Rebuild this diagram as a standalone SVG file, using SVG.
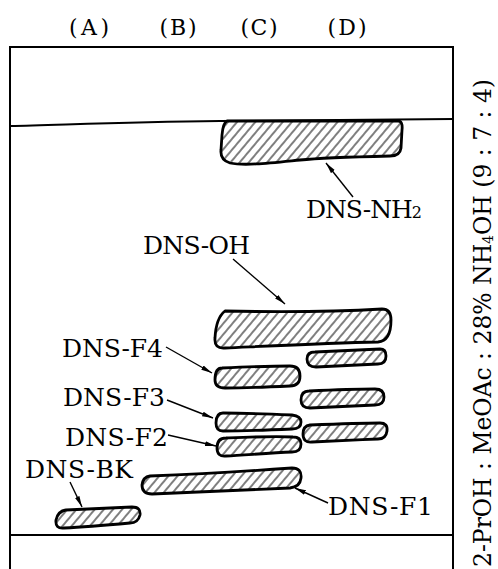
<svg xmlns="http://www.w3.org/2000/svg" width="498" height="569" viewBox="0 0 498 569">
<defs>
<pattern id="hatch" patternUnits="userSpaceOnUse" width="7" height="10" patternTransform="rotate(40)">
<line x1="1" y1="0" x2="1" y2="10" stroke="#000" stroke-width="1"/>
</pattern>
<marker id="ah" markerWidth="12" markerHeight="6" refX="11" refY="3" orient="auto" markerUnits="userSpaceOnUse">
<path d="M0,0.6 L11,3 L0,5.4 Z" fill="#000"/>
</marker>
<style>
.spot{fill:url(#hatch);stroke:#000;stroke-width:2.8;stroke-linejoin:round}
.lbl{font-family:"DejaVu Serif","Liberation Serif",serif;font-size:25px;fill:#000}
.col{font-family:"DejaVu Serif","Liberation Serif",serif;font-size:22px;fill:#000}
.frame{fill:none;stroke:#000;stroke-width:2}
.arr{fill:none;stroke:#000;stroke-width:1.4;marker-end:url(#ah)}
</style>
</defs>
<rect width="498" height="569" fill="#fff"/>
<g id="frame">
<path class="frame" d="M10,569 L10,47 L453,47 L453,569"/>
<path class="frame" d="M10,126 C60,125 120,122 220,121 L453,119"/>
<path class="frame" d="M10,535 L453,535"/>
</g>
<g id="columns">
<text class="col" x="89" y="35" text-anchor="middle" textLength="40">(A)</text>
<text class="col" x="178" y="35" text-anchor="middle" textLength="37">(B)</text>
<text class="col" x="259" y="35" text-anchor="middle" textLength="37">(C)</text>
<text class="col" x="347" y="35" text-anchor="middle" textLength="39">(D)</text>
</g>
<g id="solvent">
<text class="lbl" font-size="23" transform="translate(491,567) rotate(-90)" x="0" y="0" textLength="488" lengthAdjust="spacingAndGlyphs">2-PrOH : MeOAc : 28% NH<tspan font-size="15" dy="2">4</tspan><tspan dy="-2">OH (9 : 7 : 4)</tspan></text>
</g>
<g id="connectors">
<line class="arr" x1="353" y1="197" x2="326" y2="163"/>
<line class="arr" x1="233" y1="259" x2="285" y2="304"/>
<line class="arr" x1="166" y1="347" x2="212" y2="373"/>
<line class="arr" x1="167" y1="400" x2="213" y2="418"/>
<line class="arr" x1="168" y1="435" x2="216" y2="446"/>
<line class="arr" x1="70" y1="482" x2="82" y2="507"/>
<line class="arr" x1="328" y1="503" x2="295" y2="488"/>
</g>
<g id="spot-nh2">
<path class="spot" d="M227,121 L398,121 Q403,121 402,130 L401,148 Q400,156 390,156 C350,157 320,158 300,160 C270,163 245,166 230,163 Q220,160 221,150 L222,135 Q223,123 227,121 Z"/>
<text class="lbl" x="306" y="218" textLength="116">DNS-NH<tspan font-size="16">2</tspan></text>
</g>
<g id="spot-oh">
<path class="spot" d="M225,311 C270,312 330,312 382,309 Q391,309 391,320 Q391,341 378,342 C330,343 270,346 225,348 Q214,349 215,338 Q216,318 225,311 Z"/>
<text class="lbl" x="143" y="254" textLength="107">DNS-OH</text>
</g>
<g id="spot-d1">
<path class="spot" d="M315,352 C340,351 360,350 380,349 Q386,349 386,356 Q386,364 378,364 C355,365 335,366 316,367 Q307,367 307,359 Q307,352 315,352 Z"/>
</g>
<g id="spot-f4">
<path class="spot" d="M222,368 C245,367 270,366 290,366 Q300,366 300,376 Q300,386 290,386 C268,387 245,388 225,388 Q215,388 215,380 Q215,368 222,368 Z"/>
<text class="lbl" x="62" y="357" textLength="101">DNS-F4</text>
</g>
<g id="spot-d2">
<path class="spot" d="M309,391 C330,390 355,389 375,389 Q384,389 384,397 Q384,405 375,405 C352,406 330,407 310,408 Q301,408 301,400 Q301,391 309,391 Z"/>
</g>
<g id="spot-f3">
<path class="spot" d="M223,413 C245,413 270,414 292,415 Q301,416 301,422 Q301,429 292,429 C270,430 245,431 223,431 Q216,431 216,423 Q216,413 223,413 Z"/>
<text class="lbl" x="63" y="406" textLength="102">DNS-F3</text>
</g>
<g id="spot-d3">
<path class="spot" d="M310,425 C335,424 360,423 380,423 Q388,423 387,431 Q386,439 378,439 C355,440 330,441 312,442 Q303,443 303,434 Q303,426 310,425 Z"/>
</g>
<g id="spot-f2">
<path class="spot" d="M226,438 C250,437 272,436 293,437 Q301,437 301,444 Q301,452 292,452 C270,453 245,455 226,456 Q217,457 217,448 Q217,438 226,438 Z"/>
<text class="lbl" x="65" y="446" textLength="103">DNS-F2</text>
</g>
<g id="spot-f1">
<path class="spot" d="M150,476 C200,474 250,471 292,468 Q302,468 301,478 Q300,487 290,488 C240,490 195,492 152,494 Q142,494 142,485 Q143,477 150,476 Z"/>
<text class="lbl" x="328" y="515" textLength="105">DNS-F1</text>
</g>
<g id="spot-bk">
<path class="spot" d="M66,510 C90,509 112,508 132,507 Q141,507 140,515 Q138,523 130,523 C108,525 85,527 64,528 Q55,529 56,520 Q58,511 66,510 Z"/>
<text class="lbl" x="25" y="478" textLength="108">DNS-BK</text>
</g>
</svg>
